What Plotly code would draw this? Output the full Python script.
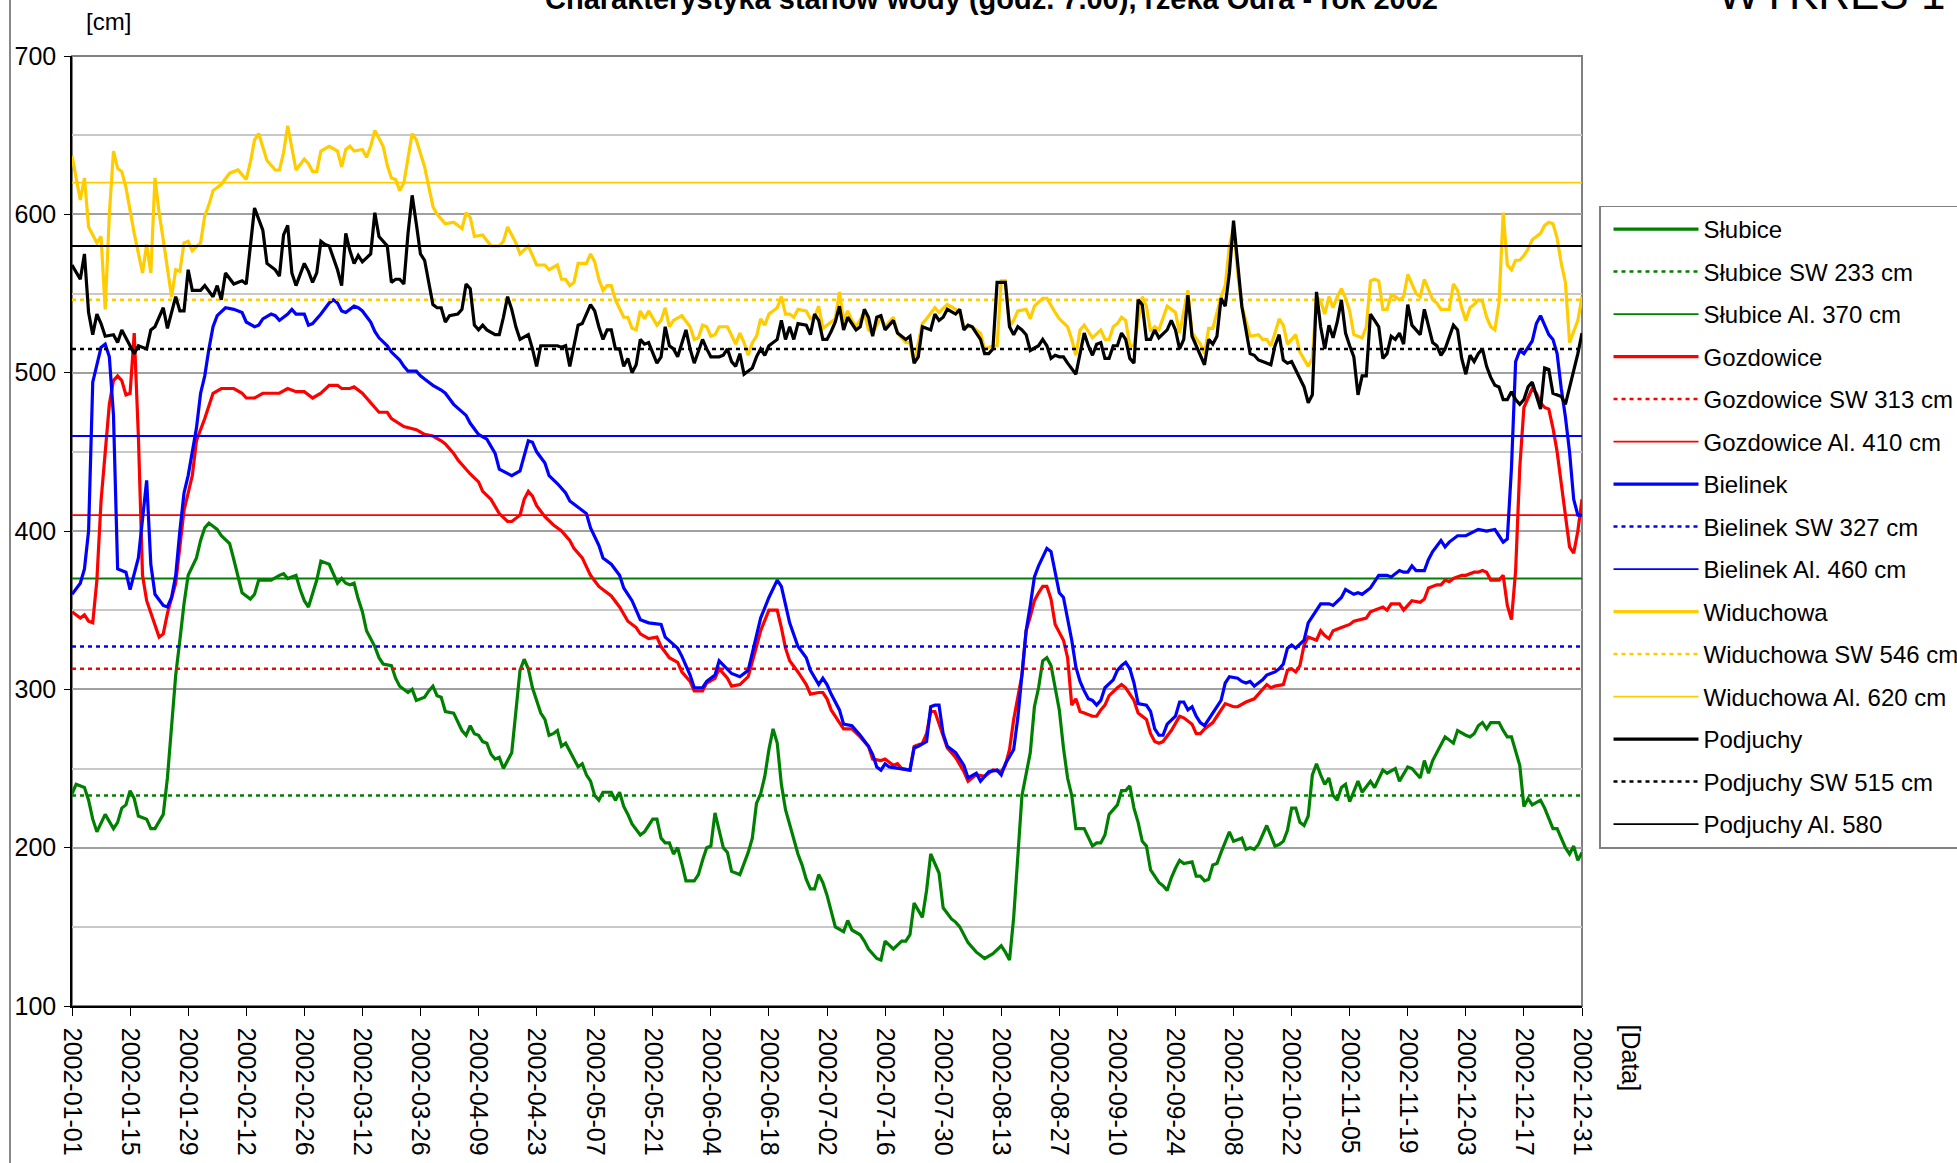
import pandas as pd
import plotly.graph_objects as go

# ---------------- data (day offsets from 2002-01-01, water level in cm) ----------------
START = "2002-01-01"
END = "2002-12-31"

slubice_days = [0,1,3,4,5,6,8,9,10,11,12,13,14,15,16,18,19,20,22,23,24,25,26,27,28,30,31,32,33,34,35,36,38,39,40,41,43,44,45,46,48,50,51,52,54,55,56,57,58,59,60,62,63,64,65,66,67,68,69,70,71,73,74,75,77,78,79,80,81,82,83,85,86,87,88,89,90,92,93,94,95,96,97,98,99,100,101,102,103,104,106,107,108,109,110,111,112,113,114,115,116,117,118,119,121,122,123,124,125,126,127,128,130,131,132,133,134,135,137,138,139,140,141,142,143,144,145,146,147,148,150,151,152,153,154,155,156,157,158,159,161,162,163,164,165,166,167,168,169,170,171,172,174,175,176,177,178,179,180,181,182,183,184,186,187,188,190,191,192,194,195,196,198,200,201,202,203,205,206,207,209,210,212,213,214,216,218,219,220,222,224,225,226,227,228,229,231,232,233,234,235,236,238,239,240,241,242,244,246,247,248,249,250,252,253,254,255,256,257,258,259,260,262,263,264,265,266,267,268,270,271,272,273,274,275,276,277,278,279,280,282,283,284,285,286,288,289,290,291,292,293,294,295,296,297,298,299,300,301,302,303,304,305,306,307,308,310,311,313,314,316,317,319,320,322,323,325,326,327,328,330,331,333,334,336,337,338,339,340,341,342,344,345,346,347,349,350,351,352,354,355,357,358,359,360,361,362,363,364]
slubice_cm = [234,240,238,230,218,210,221,216,212,216,225,227,236,231,220,218,212,212,221,244,276,309,331,354,372,383,394,402,405,403,401,397,392,382,372,361,357,360,369,369,369,372,373,370,372,363,356,352,360,369,381,379,373,367,370,367,366,367,357,349,337,327,320,316,315,307,302,300,298,300,293,295,299,302,296,295,286,285,279,274,271,277,272,271,267,266,259,256,257,250,260,287,312,319,313,301,293,285,281,271,272,274,264,266,256,251,253,246,242,233,230,235,235,230,235,226,221,215,208,210,214,218,218,206,203,203,196,200,190,179,179,183,192,200,201,222,211,200,197,185,183,190,197,206,228,234,245,262,275,266,240,224,206,196,189,180,174,174,183,178,170,159,150,147,154,148,145,141,136,130,129,141,136,141,141,145,165,156,173,196,184,162,155,153,150,140,134,132,130,133,138,134,129,156,197,233,260,289,301,318,320,315,287,263,244,233,212,212,201,203,203,208,221,227,236,236,239,225,216,204,201,186,178,176,173,181,187,192,190,191,182,182,179,180,189,190,197,204,210,204,206,199,200,199,202,214,208,201,202,204,211,225,225,216,214,220,246,253,246,240,244,233,230,238,240,229,242,235,242,238,249,247,250,242,251,250,244,255,247,255,265,270,266,274,271,270,272,277,279,275,279,279,274,270,270,252,226,231,227,230,225,212,212,206,200,196,201,192,197,192,184,187]

gozdowice_days = [0,2,3,4,5,6,7,9,10,11,12,13,14,15,16,17,18,20,21,22,23,25,26,27,29,30,32,33,34,36,39,41,42,44,46,48,50,52,54,56,58,60,62,64,65,67,68,70,72,74,76,77,80,82,83,85,87,89,90,92,93,95,96,98,99,101,103,105,106,108,109,110,111,112,114,116,118,120,121,123,125,127,128,130,132,134,136,137,139,141,142,144,146,147,149,150,152,153,155,156,158,159,161,163,165,166,168,170,171,172,173,175,177,178,180,181,182,183,185,186,188,190,192,193,195,196,198,199,200,202,203,205,206,207,208,210,211,213,215,216,218,220,222,224,225,226,227,229,230,231,232,233,234,235,236,237,239,240,241,242,243,244,246,247,248,249,250,252,253,254,256,257,259,260,261,262,263,265,266,267,268,270,271,272,273,275,276,277,278,280,281,283,284,285,287,288,289,290,292,293,294,295,296,297,298,300,301,302,303,304,306,308,309,311,312,313,314,316,317,318,320,321,322,323,325,326,327,329,330,331,332,333,335,336,338,339,340,341,342,344,345,346,347,348,349,350,351,352,353,354,355,356,357,358,359,360,361,362,363,364]
gozdowice_cm = [349,345,347,343,342,369,419,480,495,498,495,486,487,525,460,372,356,341,333,335,348,367,389,413,435,457,471,479,487,490,490,487,484,484,487,487,487,490,488,488,484,487,492,492,490,490,491,487,481,475,475,471,466,465,464,461,460,457,455,449,445,439,436,431,425,420,411,406,406,410,420,425,422,416,409,404,400,394,389,383,372,365,363,359,352,343,339,335,332,333,327,320,317,311,305,299,299,304,307,313,307,302,303,308,327,337,350,350,339,326,318,311,303,297,298,298,294,287,279,275,275,270,264,256,255,256,252,253,250,249,264,266,272,286,286,270,263,257,248,242,246,245,249,248,252,262,281,309,337,346,356,361,365,365,357,341,331,320,290,294,286,285,283,283,287,290,296,301,303,301,293,285,281,272,267,266,267,274,279,283,282,278,272,272,275,279,283,287,291,289,289,292,293,294,300,303,301,302,303,312,313,311,315,328,333,331,337,334,332,337,339,341,343,344,345,349,350,352,350,354,354,350,353,356,355,357,364,366,366,369,368,370,372,372,374,374,375,374,369,369,372,353,344,375,440,478,484,490,487,481,478,477,465,450,430,410,390,386,400,420]

bielinek_days = [0,2,3,4,5,7,8,9,10,11,13,14,16,17,18,19,20,22,23,24,25,26,27,28,29,30,31,32,33,34,35,37,39,41,42,44,45,46,48,49,50,52,53,54,56,57,58,60,62,63,64,65,66,68,69,70,72,73,74,76,77,79,80,81,83,84,86,87,89,90,92,95,96,98,100,102,103,105,106,108,109,110,111,112,114,115,117,119,120,122,124,125,127,128,130,132,133,135,137,139,142,143,146,147,149,150,152,153,155,156,158,159,161,163,165,166,168,170,171,172,173,175,177,178,180,181,182,183,185,186,188,190,192,193,194,195,196,197,199,201,202,203,204,206,207,208,209,210,211,213,215,216,218,219,221,223,224,225,227,228,229,230,231,232,233,234,235,236,237,238,239,240,241,242,243,244,245,246,247,248,249,251,252,253,254,255,256,257,259,260,261,262,263,264,266,267,268,269,270,271,272,273,274,275,276,277,278,279,281,282,283,284,285,287,288,290,291,292,293,294,295,297,298,299,300,301,303,304,306,307,309,310,311,313,314,315,317,318,320,321,322,323,324,326,327,328,330,331,332,334,336,338,339,341,343,344,345,346,347,348,349,350,351,352,353,354,355,356,357,358,359,360,361,362,363,364]
bielinek_cm = [360,367,376,400,494,516,518,510,473,376,374,363,383,408,432,379,360,353,352,358,372,400,424,435,450,465,487,498,515,529,536,541,540,538,532,529,530,534,537,536,533,537,540,537,537,530,531,537,544,546,544,539,538,542,541,539,532,526,522,517,513,508,504,501,501,498,494,492,489,487,480,473,468,461,458,449,439,436,435,438,447,457,456,450,443,435,430,424,419,415,411,402,391,383,379,372,364,356,344,342,341,333,326,321,309,301,301,305,309,318,313,310,308,312,334,345,358,369,365,353,342,327,320,312,303,307,303,297,287,278,277,271,264,259,251,249,253,251,250,249,249,263,264,267,289,290,290,272,264,260,252,244,247,242,248,249,246,253,262,282,309,337,353,371,378,384,389,387,375,361,358,345,331,314,305,299,294,293,290,293,301,306,312,315,317,313,304,291,290,286,275,271,271,278,283,292,292,287,289,283,279,277,281,285,289,293,304,308,307,305,304,305,302,306,309,311,313,316,326,328,326,331,342,346,350,354,354,353,358,363,360,361,360,364,368,372,372,371,375,374,374,378,375,375,382,387,394,390,393,397,397,400,401,400,401,397,393,395,440,507,514,512,516,520,531,536,530,524,521,512,490,472,450,420,410,410,422]

widuchowa_days = [0,2,3,4,6,7,8,9,10,11,12,13,15,16,17,18,19,20,21,22,24,25,26,27,28,29,31,32,33,34,36,38,40,42,43,44,45,47,49,50,51,52,54,56,57,58,59,60,62,64,65,66,67,68,70,71,72,73,75,76,77,78,79,80,82,83,85,87,88,90,92,94,95,96,97,99,101,103,104,105,107,108,110,112,114,115,117,118,119,120,121,122,124,125,126,127,128,129,130,131,133,134,135,136,137,138,139,141,142,143,144,145,147,149,150,151,152,153,154,155,156,158,159,160,161,162,163,164,165,166,167,168,170,171,172,173,174,175,177,178,179,180,181,182,184,185,186,187,188,189,191,192,193,195,196,198,199,201,202,203,205,206,208,209,211,213,214,215,217,219,220,222,223,224,225,226,227,228,230,231,232,234,235,237,238,240,241,242,243,244,246,248,249,250,251,252,253,254,255,256,258,259,260,261,262,264,266,267,268,269,270,272,273,274,275,276,277,278,279,280,281,282,283,284,286,287,288,289,290,291,292,293,295,296,298,299,300,301,302,303,304,305,306,307,308,309,311,312,313,314,315,316,317,318,319,320,321,322,324,325,326,327,328,329,330,332,333,334,335,336,337,338,339,340,341,342,343,344,345,346,347,348,349,350,351,352,354,355,356,357,358,359,360,361,363,364]
widuchowa_cm = [637,609,623,592,582,586,540,600,640,629,627,617,588,575,563,581,563,623,601,584,548,565,564,582,583,577,582,599,606,615,619,626,628,622,633,647,651,634,628,628,639,656,628,635,632,627,627,640,643,640,630,641,643,640,641,636,643,653,643,631,623,622,615,620,651,647,630,605,600,594,595,591,601,598,586,587,580,580,583,592,582,575,580,568,568,565,568,559,559,555,557,569,569,575,570,559,552,555,555,546,535,535,528,527,539,534,539,530,533,541,529,533,536,529,521,522,530,529,523,524,529,529,524,518,525,519,511,519,523,534,530,537,541,548,537,537,535,540,539,534,535,542,528,530,534,551,533,539,533,529,538,527,525,535,529,535,525,519,519,506,531,534,541,538,543,540,538,529,529,525,515,517,517,558,558,529,533,539,540,534,542,547,547,538,534,529,521,511,527,530,522,527,521,521,529,531,535,533,517,517,548,542,526,529,527,542,538,525,538,552,525,518,512,528,528,538,548,555,580,592,563,542,533,523,524,521,521,517,525,534,530,518,524,513,504,509,548,545,537,548,541,548,553,547,539,524,522,529,558,559,558,540,540,549,548,546,548,562,550,548,559,552,546,544,540,540,556,552,541,533,541,543,546,545,535,529,527,544,601,568,565,571,571,574,578,584,588,593,595,594,585,569,557,519,533,548]

podjuchy_days = [0,2,3,4,5,6,7,8,10,11,12,14,15,16,18,19,20,22,23,25,26,27,28,29,31,32,34,35,36,37,39,41,42,43,44,46,47,49,50,51,52,53,54,56,57,58,59,60,61,62,64,65,66,67,68,69,70,72,73,74,76,77,78,79,80,81,82,83,84,85,87,88,89,90,91,93,94,95,96,97,98,99,100,102,103,104,105,106,107,108,110,111,112,113,115,117,118,119,120,121,122,123,125,126,127,128,129,130,131,132,133,134,135,136,137,138,139,141,142,143,144,145,146,148,149,150,151,152,153,154,156,157,158,159,160,161,162,164,165,166,167,168,170,171,172,173,174,175,177,178,179,180,181,182,183,184,185,186,187,188,189,190,191,192,193,194,195,196,197,198,199,201,202,203,204,205,207,208,209,210,211,213,214,215,216,217,219,220,221,222,223,224,225,226,227,228,229,230,231,233,234,235,236,237,238,239,240,242,243,244,245,246,247,248,249,250,251,252,253,254,255,256,257,258,259,260,261,262,264,265,266,267,268,269,270,271,273,274,275,276,277,278,279,280,281,282,283,284,285,286,287,288,289,290,291,292,293,294,295,297,298,299,300,301,302,303,304,305,306,307,308,309,310,311,312,313,314,315,316,317,318,319,320,321,322,323,324,325,326,327,328,329,330,331,333,334,335,336,337,338,339,340,341,342,343,344,345,346,347,348,349,350,351,352,353,354,355,356,357,359,360,361,362,363,364]
podjuchy_cm = [568,559,575,538,524,537,531,523,524,519,527,517,512,517,515,527,529,541,528,548,539,539,565,552,552,555,548,555,546,563,556,558,556,580,604,590,569,565,561,587,593,563,555,569,564,557,563,583,581,580,565,555,588,577,569,574,570,575,601,586,580,557,559,559,556,588,612,594,575,571,543,541,541,532,536,537,540,556,553,530,527,530,527,524,524,535,548,540,529,521,524,515,504,517,517,517,516,517,504,517,530,531,543,539,529,521,527,527,515,515,504,509,500,505,521,518,519,506,510,529,517,515,510,527,515,506,513,521,515,510,510,511,515,507,504,512,499,503,510,515,511,517,521,533,521,529,521,531,530,524,537,533,521,521,526,532,542,527,535,531,527,529,540,535,523,535,536,527,530,533,525,521,523,506,510,529,527,537,533,535,540,537,540,527,530,529,521,512,512,515,557,557,557,529,524,529,527,524,514,517,521,517,509,511,510,510,506,499,511,525,517,511,518,519,509,509,517,517,525,521,509,506,546,543,521,521,527,522,527,533,527,515,521,549,523,517,505,521,518,523,547,542,563,596,571,542,527,512,511,508,507,506,505,517,524,508,506,507,502,491,481,486,551,529,515,530,522,532,546,525,517,510,486,498,498,537,533,529,509,512,523,521,525,518,543,530,527,524,540,529,519,517,511,515,530,527,509,499,511,507,512,515,504,497,492,491,483,483,488,483,480,483,491,494,485,477,503,502,487,485,480,491,500,512,525]

# characteristic levels [cm]: SW = mean level, Al. = alarm level
slubice_sw, slubice_al = 233, 370
gozdowice_sw, gozdowice_al = 313, 410
bielinek_sw, bielinek_al = 327, 460
widuchowa_sw, widuchowa_al = 546, 620
podjuchy_sw, podjuchy_al = 515, 580

tick_dates = pd.date_range(START, END, freq="14D")

# ---------------- figure ----------------
W, H = 1957, 1163
L, R, T, B = 72, 375, 56, 157
PW, PH = W - L - R, H - T - B


def px_x(px):
    return (px - L) / PW


def px_y(py):
    return (H - B - py) / PH


FONT = 'Arial, "Liberation Sans", sans-serif'


def to_dates(days):
    return pd.Timestamp(START) + pd.to_timedelta(days, unit="D")


stations = [
    ("Słubice", "#008000", slubice_days, slubice_cm, slubice_sw, slubice_al, " cm"),
    ("Gozdowice", "#FF0000", gozdowice_days, gozdowice_cm, gozdowice_sw, gozdowice_al, " cm"),
    ("Bielinek", "#0000FF", bielinek_days, bielinek_cm, bielinek_sw, bielinek_al, " cm"),
    ("Widuchowa", "#FFCC00", widuchowa_days, widuchowa_cm, widuchowa_sw, widuchowa_al, " cm"),
    ("Podjuchy", "#000000", podjuchy_days, podjuchy_cm, podjuchy_sw, podjuchy_al, ""),
]

fig = go.Figure()
span = [pd.Timestamp(START), pd.Timestamp(END)]
for name, color, days, vals, sw, al, unit in stations:
    fig.add_trace(go.Scatter(
        x=to_dates(days), y=vals, mode="lines", name=name, legendgroup=name,
        line=dict(color=color, width=3.2)))
    fig.add_trace(go.Scatter(
        x=span, y=[sw, sw], mode="lines", name=f"{name} SW {sw} cm",
        legendgroup=name + " SW",
        line=dict(color=color, width=2.5, dash="4px,4px")))
    fig.add_trace(go.Scatter(
        x=span, y=[al, al], mode="lines", name=f"{name} Al. {al}{unit}",
        legendgroup=name + " Al",
        line=dict(color=color, width=1.8)))

fig.update_layout(
    width=W, height=H,
    margin=dict(l=L, r=R, t=T, b=B, autoexpand=False),
    paper_bgcolor="white", plot_bgcolor="white",
    font=dict(family=FONT, size=24, color="black"),
    showlegend=True,
    legend=dict(
        x=px_x(1599), y=px_y(205.5), xanchor="left", yanchor="top",
        bordercolor="#808080", borderwidth=1.5, bgcolor="white",
        font=dict(family=FONT, size=24, color="black"),
        tracegroupgap=8.3, itemwidth=85, indentation=8,
    ),
)

fig.update_yaxes(
    range=[100, 700], dtick=100, tick0=100,
    showgrid=True, gridcolor="#a0a0a0", gridwidth=2,
    minor=dict(dtick=50, showgrid=True, gridcolor="#c8c8c8", gridwidth=1.5),
    showline=True, linecolor="black", linewidth=1.5,
    ticks="outside", ticklen=6, tickcolor="black", ticklabelstandoff=3,
    tickfont=dict(family=FONT, size=25, color="black"),
    zeroline=False,
)
fig.update_xaxes(
    type="date", range=span,
    tickvals=tick_dates, tickformat="%Y-%m-%d", tickangle=90,
    showgrid=False, showline=True, linecolor="black", linewidth=1.5,
    ticks="outside", ticklen=8, tickcolor="black", ticklabelstandoff=7,
    tickfont=dict(family=FONT, size=25, color="black"),
    zeroline=False,
)

# plot-area border (top/right grey) and chart-area left border
fig.add_shape(type="rect", xref="paper", yref="paper", x0=0, x1=1, y0=0, y1=1,
              line=dict(color="#808080", width=2), layer="below")
fig.add_shape(type="line", xref="paper", yref="paper",
              x0=px_x(10), x1=px_x(10), y0=px_y(H), y1=px_y(0),
              line=dict(color="#606060", width=1.5))

fig.add_annotation(text="<b>Charakterystyka stanów wody (godz. 7.00), rzeka Odra - rok 2002</b>",
                   xref="paper", yref="paper", x=px_x(991), y=px_y(-1), xanchor="center",
                   yanchor="middle", showarrow=False, font=dict(family=FONT, size=29))
fig.add_annotation(text="WYKRES 1", xref="paper", yref="paper", x=px_x(1716), y=px_y(-7),
                   xanchor="left", yanchor="middle", showarrow=False,
                   font=dict(family=FONT, size=44))
fig.add_annotation(text="[cm]", xref="paper", yref="paper", x=px_x(108), y=px_y(21),
                   xanchor="center", yanchor="middle", showarrow=False,
                   font=dict(family=FONT, size=24))
fig.add_annotation(text="[Data]", xref="paper", yref="paper", x=px_x(1631), y=px_y(1023),
                   xanchor="center", yanchor="top", textangle=90, showarrow=False,
                   font=dict(family=FONT, size=25))

# the page body has a default 8px margin; remove it so the chart starts at the window corner
fig.write_html("out.html", config={"displayModeBar": False},
               post_script="document.body.style.margin='0px';")
